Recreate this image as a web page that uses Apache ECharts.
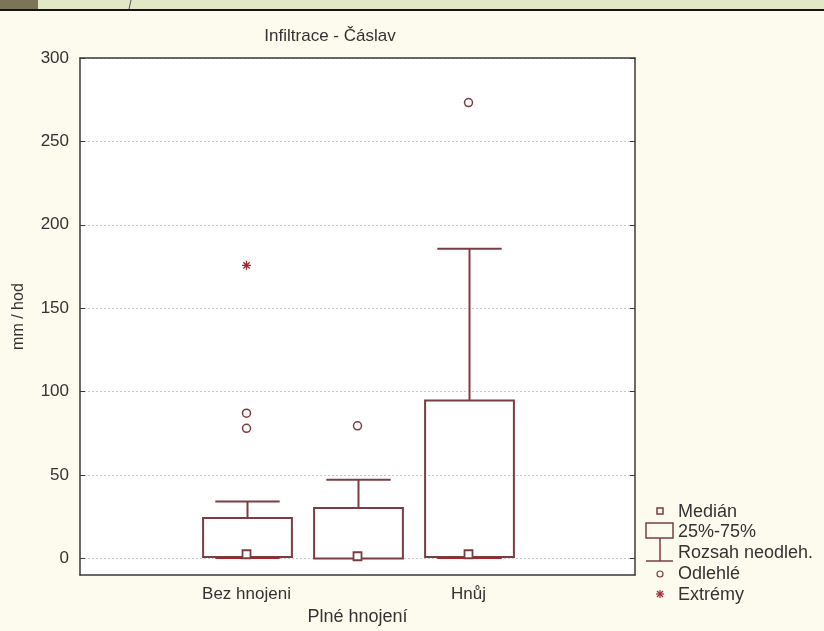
<!DOCTYPE html>
<html>
<head>
<meta charset="utf-8">
<script src="https://cdn.jsdelivr.net/npm/echarts@6/dist/echarts.min.js"></script>
<style>
html,body{margin:0;padding:0;background:#fdfaee;}
#c{width:824px;height:631px;}
</style>
</head>
<body>
<div id="c"></div>
<script>
// ---- data ----
const categories = ['', 'Bez hnojeni', '', 'Hnůj', ''];
const boxIndex = [1, 2, 3];
const whiskerLow = [0.2, 0.0, 0.2];
const quartile1 = [0.8, 0.0, 0.8];
const medians = [2.5, 1.3, 2.5];
const quartile3 = [24.3, 30.3, 94.7];
const whiskerHigh = [34.1, 47.1, 185.6];
const outliers = [[1, 87.1], [1, 78.0], [2, 79.5], [3, 273.3]];
const extremes = [[1, 175.7]];
const yTicks = [0, 50, 100, 150, 200, 250, 300];
const legendLabels = ['Medián', '25%-75%', 'Rozsah neodleh.', 'Odlehlé', 'Extrémy'];

const MAROON = '#7c3d42';
const RED = '#a3262c';
const FONT = "'Liberation Sans', Arial, sans-serif";

const boxData = boxIndex.map((c, i) => [c, whiskerLow[i], quartile1[i], medians[i], quartile3[i], whiskerHigh[i]]);
const medianData = boxIndex.map((c, i) => [c, medians[i]]);

const chart = echarts.init(document.getElementById('c'), null, {renderer: 'canvas'});

function renderBox(params, api) {
  const x = api.value(0);
  const lo = api.value(1), q1 = api.value(2), q3 = api.value(4), hi = api.value(5);
  const band = api.size([1, 0])[0];
  const bw = band * 0.8, cw = band * 0.58;
  const pQ1 = api.coord([x, q1]), pQ3 = api.coord([x, q3]);
  const pHi = api.coord([x, hi]), pLo = api.coord([x, lo]);
  const cx = Math.round(pQ1[0]) + 0.5;
  const children = [
    {type: 'line', shape: {x1: cx, y1: pQ3[1], x2: cx, y2: pHi[1]}, style: {stroke: MAROON, lineWidth: 2}},
    {type: 'line', shape: {x1: cx - cw / 2, y1: pHi[1], x2: cx + cw / 2, y2: pHi[1]}, style: {stroke: MAROON, lineWidth: 2}},
    {type: 'rect', shape: {x: cx - bw / 2, y: pQ3[1], width: bw, height: pQ1[1] - pQ3[1]}, style: {fill: 'none', stroke: MAROON, lineWidth: 2}}
  ];
  if (lo < q1) {
    children.push({type: 'line', shape: {x1: cx - cw / 2, y1: pLo[1], x2: cx + cw / 2, y2: pLo[1]}, style: {stroke: RED, lineWidth: 2}});
  }
  return {type: 'group', children};
}

const lx = 660;
const ly = [511, 531, 552, 573, 594];
function star(cx, cy, r, color) {
  const d = r * 0.75;
  return {type: 'group', children: [
    {type: 'line', shape: {x1: cx - r, y1: cy, x2: cx + r, y2: cy}, style: {stroke: color, lineWidth: 1.2}},
    {type: 'line', shape: {x1: cx, y1: cy - r, x2: cx, y2: cy + r}, style: {stroke: color, lineWidth: 1.2}},
    {type: 'line', shape: {x1: cx - d, y1: cy - d, x2: cx + d, y2: cy + d}, style: {stroke: color, lineWidth: 1.2}},
    {type: 'line', shape: {x1: cx + d, y1: cy - d, x2: cx - d, y2: cy + d}, style: {stroke: color, lineWidth: 1.2}}
  ]};
}
const legendGraphics = [
  {type: 'rect', shape: {x: lx - 3, y: ly[0] - 3, width: 6, height: 6}, style: {fill: 'none', stroke: MAROON, lineWidth: 1.5}},
  {type: 'rect', shape: {x: 646, y: 523, width: 27, height: 15}, style: {fill: 'none', stroke: MAROON, lineWidth: 1.5}},
  {type: 'line', shape: {x1: lx, y1: 538, x2: lx, y2: 561}, style: {stroke: MAROON, lineWidth: 1.5}},
  {type: 'line', shape: {x1: 646, y1: 561, x2: 673, y2: 561}, style: {stroke: MAROON, lineWidth: 1.5}},
  {type: 'circle', shape: {cx: lx, cy: ly[3] + 1, r: 3}, style: {fill: 'none', stroke: MAROON, lineWidth: 1.2}},
  star(lx, ly[4], 4, RED)
];
legendLabels.forEach((t, i) => {
  legendGraphics.push({type: 'text', x: 678, y: ly[i] + 1, style: {text: t, font: '18px ' + FONT, fill: '#333', verticalAlign: 'middle', align: 'left'}});
});

const topStrip = [
  {type: 'rect', shape: {x: 0, y: 0, width: 824, height: 9}, style: {fill: '#e2e8c7'}},
  {type: 'rect', shape: {x: 0, y: 0, width: 38, height: 9}, style: {fill: '#7b7459'}},
  {type: 'line', shape: {x1: 131, y1: 0, x2: 129, y2: 9}, style: {stroke: '#555', lineWidth: 1}},
  {type: 'rect', shape: {x: 0, y: 9, width: 824, height: 2}, style: {fill: '#151515'}}
];

const axisLineStyle = {color: '#3a3a3a', width: 1.5};

chart.setOption({
  backgroundColor: '#fdfaee',
  animation: false,
  title: {
    text: 'Infiltrace - Čáslav', left: 325, top: 23, textAlign: 'center',
    textStyle: {fontFamily: FONT, fontSize: 17, fontWeight: 'normal', color: '#333'}
  },
  grid: {left: 80, right: 189, top: 58, bottom: 55, show: true, backgroundColor: '#ffffff', borderWidth: 0},
  xAxis: [{
    type: 'category', data: categories, position: 'bottom', boundaryGap: true,
    name: 'Plné hnojení', nameLocation: 'middle', nameGap: 32,
    nameTextStyle: {fontFamily: FONT, fontSize: 18, color: '#333'},
    axisLine: {onZero: false, lineStyle: axisLineStyle},
    axisTick: {inside: true, alignWithLabel: true, length: 5, lineStyle: {color: '#3a3a3a'}},
    axisLabel: {interval: 0, fontFamily: FONT, fontSize: 17, color: '#333', margin: 11},
    splitLine: {show: false}
  }, {
    type: 'category', data: categories, position: 'top', boundaryGap: true,
    axisLine: {onZero: false, lineStyle: axisLineStyle},
    axisTick: {inside: true, alignWithLabel: true, length: 5, lineStyle: {color: '#3a3a3a'}},
    axisLabel: {show: false}, splitLine: {show: false}
  }],
  yAxis: [{
    type: 'value', min: -10, max: 300, position: 'left',
    name: 'mm / hod', nameLocation: 'middle', nameGap: 53,
    nameTextStyle: {fontFamily: FONT, fontSize: 16, color: '#333'},
    axisLine: {show: true, onZero: false, lineStyle: axisLineStyle},
    axisTick: {show: true, inside: true, length: 5, customValues: yTicks, lineStyle: {color: '#3a3a3a'}},
    axisLabel: {customValues: yTicks, fontFamily: FONT, fontSize: 17, color: '#333', margin: 11},
    splitLine: {show: true, lineStyle: {color: '#c8c8c8', type: [2, 2], width: 1}}
  }, {
    type: 'value', min: -10, max: 300, position: 'right',
    axisLine: {show: true, onZero: false, lineStyle: axisLineStyle},
    axisTick: {show: true, inside: true, length: 5, customValues: yTicks, lineStyle: {color: '#3a3a3a'}},
    axisLabel: {show: false}, splitLine: {show: false}
  }],
  series: [{
    type: 'custom', name: '25%-75%', xAxisIndex: 0, yAxisIndex: 0,
    renderItem: renderBox, data: boxData, z: 3,
    encode: {x: 0, y: [1, 2, 3, 4, 5]}
  }, {
    type: 'scatter', name: 'Medián', data: medianData, symbol: 'rect', symbolSize: 8, z: 5,
    itemStyle: {color: '#ffffff', borderColor: MAROON, borderWidth: 1.8, opacity: 1}
  }, {
    type: 'scatter', name: 'Odlehlé', data: outliers, symbol: 'circle', symbolSize: 8, z: 5,
    itemStyle: {color: '#ffffff', borderColor: MAROON, borderWidth: 1.5, opacity: 1}
  }, {
    type: 'scatter', name: 'Extrémy', data: extremes, z: 5,
    symbol: 'path://M0,5L10,5M5,0L5,10M1.5,1.5L8.5,8.5M8.5,1.5L1.5,8.5', symbolSize: 9,
    itemStyle: {color: 'none', borderColor: RED, borderWidth: 1.3, opacity: 1}
  }],
  graphic: topStrip.concat(legendGraphics)
});
</script>
</body>
</html>
